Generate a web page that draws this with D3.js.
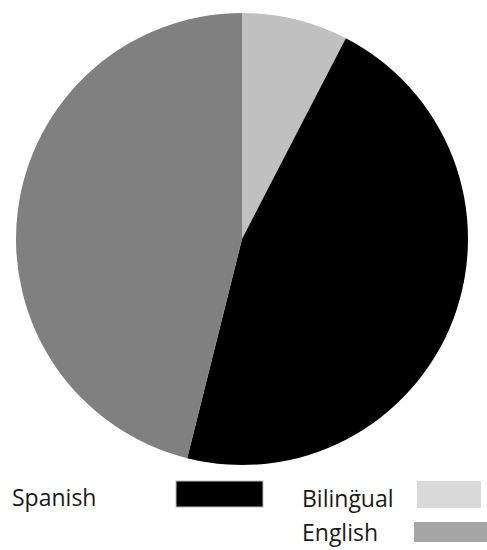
<!DOCTYPE html>
<html>
<head>
<meta charset="utf-8">
<script src="https://cdn.jsdelivr.net/npm/d3@7"></script>
<style>
  html, body { margin: 0; padding: 0; background: #fff; }
  svg { display: block; }
  text { font-family: "Open Sans", "Noto Sans", sans-serif; fill: #1a1a1a; }
</style>
</head>
<body>
<svg id="chart" width="487" height="550"></svg>
<script>
// Survey share by language of instruction (percent)
const categories = ["Bilingual", "Spanish", "English"];
const values = [7.6, 46.3, 46.1];
const legendLabels = ["Biling\u0308ual", "Spanish", "English"];
const sliceColors = ["#c0c0c0", "#000000", "#808080"];
const legendColors = ["#d9d9d9", "#000000", "#a6a6a6"];

const svg = d3.select("#chart");
const cx = 242, cy = 239, radius = 226;

const pie = d3.pie().sort(null).value(d => d.value);
const arc = d3.arc().innerRadius(0).outerRadius(radius);
const data = categories.map((c, i) => ({ name: c, value: values[i] }));
const color = d3.scaleOrdinal().domain(categories).range(sliceColors);
const legendColor = d3.scaleOrdinal().domain(categories).range(legendColors);
const labelOf = d3.scaleOrdinal().domain(categories).range(legendLabels);

svg.append("g")
  .attr("transform", `translate(${cx},${cy})`)
  .selectAll("path")
  .data(pie(data))
  .join("path")
  .attr("d", arc)
  .attr("fill", d => color(d.data.name));

// Legend: Spanish on the left, Bilingual and English stacked on the right
const legendItems = [
  { name: "Spanish",   tx: 12,  ty: 506, bx: 176, by: 481, bw: 87, bh: 26 },
  { name: "Bilingual", tx: 302, ty: 507, bx: 417, by: 481, bw: 64, bh: 27 },
  { name: "English",   tx: 302, ty: 541, bx: 414, by: 522, bw: 76, bh: 20 }
];

const legend = svg.append("g");
legend.selectAll("text.lbl")
  .data(legendItems)
  .join("text")
  .attr("class", "lbl")
  .attr("x", d => d.tx)
  .attr("y", d => d.ty)
  .attr("font-size", 23)
  .text(d => labelOf(d.name));

legend.selectAll("rect")
  .data(legendItems)
  .join("rect")
  .attr("x", d => d.bx)
  .attr("y", d => d.by)
  .attr("width", d => d.bw)
  .attr("height", d => d.bh)
  .attr("fill", d => legendColor(d.name))
  .attr("stroke", d => d.name === "Spanish" ? "#bdbdbd" : "none")
  .attr("stroke-width", 1);
</script>
</body>
</html>
